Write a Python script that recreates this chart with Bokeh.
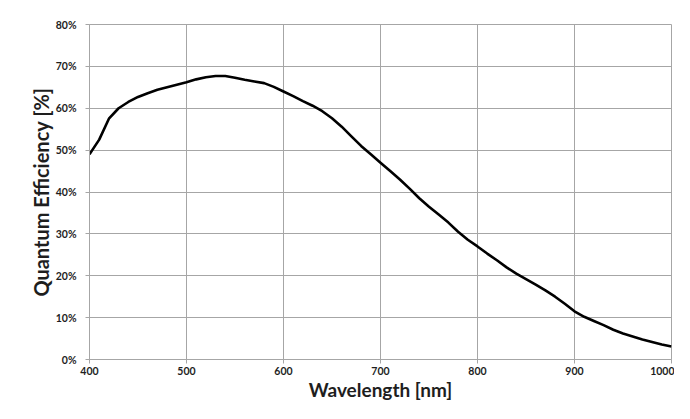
from bokeh.plotting import figure
from bokeh.embed import file_html
from bokeh.resources import INLINE
from bokeh.models import FixedTicker, PrintfTickFormatter, Range1d

# ---- data ----
wavelength_nm = [400, 410, 420, 430, 440, 450, 460, 470, 480, 490,
                 500, 510, 520, 530, 540, 550, 560, 570, 580, 590,
                 600, 610, 620, 630, 640, 650, 660, 670, 680, 690,
                 700, 710, 720, 730, 740, 750, 760, 770, 780, 790,
                 800, 810, 820, 830, 840, 850, 860, 870, 880, 890,
                 900, 910, 920, 930, 940, 950, 960, 970, 980, 990, 1000]
qe_percent = [49.0, 52.5, 57.5, 60.0, 61.5, 62.7, 63.6, 64.4, 65.0, 65.6,
              66.2, 66.9, 67.4, 67.7, 67.7, 67.3, 66.8, 66.4, 66.0, 65.1,
              64.0, 62.9, 61.7, 60.6, 59.3, 57.6, 55.6, 53.3, 51.0, 49.0,
              47.0, 45.0, 43.0, 40.8, 38.5, 36.5, 34.6, 32.7, 30.5, 28.6,
              27.0, 25.3, 23.7, 22.0, 20.5, 19.2, 17.9, 16.5, 15.0, 13.3,
              11.5, 10.2, 9.2, 8.2, 7.1, 6.2, 5.5, 4.8, 4.2, 3.6, 3.1]
x_ticks = [400, 500, 600, 700, 800, 900, 1000]
y_ticks = [0, 10, 20, 30, 40, 50, 60, 70, 80]
x_title = "Wavelength [nm]"
y_title = "Quantum Efficiency [%]"

FONT = "Lato"
GRID = "#a6a6a6"
TEXT = "#1e1e1e"

p = figure(width=674, height=403, output_backend="svg", toolbar_location=None,
           x_range=Range1d(x_ticks[0], x_ticks[-1]),
           y_range=Range1d(y_ticks[0], y_ticks[-1]),
           min_border_left=89, min_border_right=3, min_border_top=24,
           min_border_bottom=42)

p.line(wavelength_nm, qe_percent, line_color="black", line_width=2.6)

p.background_fill_color = "white"
p.border_fill_color = "white"
p.outline_line_color = GRID
p.outline_line_width = 1

for g in (p.xgrid, p.ygrid):
    g.grid_line_color = GRID
    g.grid_line_width = 1
p.xgrid.ticker = FixedTicker(ticks=x_ticks)
p.ygrid.ticker = FixedTicker(ticks=y_ticks)

p.xaxis.ticker = FixedTicker(ticks=x_ticks)
p.yaxis.ticker = FixedTicker(ticks=y_ticks)
p.yaxis.formatter = PrintfTickFormatter(format="%d%%")

for ax in (p.xaxis[0], p.yaxis[0]):
    ax.axis_line_color = GRID
    ax.major_tick_line_color = GRID
    ax.major_tick_in = 0
    ax.major_tick_out = 4
    ax.minor_tick_line_color = None
    ax.major_label_text_font = FONT
    ax.major_label_text_font_style = "bold"
    ax.major_label_text_font_size = "10.5px"
    ax.major_label_text_color = TEXT
    ax.axis_label_text_font = FONT
    ax.axis_label_text_font_style = "bold"
    ax.axis_label_text_color = TEXT

p.xaxis.axis_label = x_title
p.yaxis.axis_label = y_title
p.xaxis.axis_label_text_font_size = "19px"
p.yaxis.axis_label_text_font_size = "20px"
p.xaxis.major_label_standoff = 3
p.xaxis.axis_label_standoff = 0
p.yaxis.major_label_standoff = 9
p.yaxis.axis_label_standoff = 0

open("out.html", "w").write(file_html(p, INLINE))
